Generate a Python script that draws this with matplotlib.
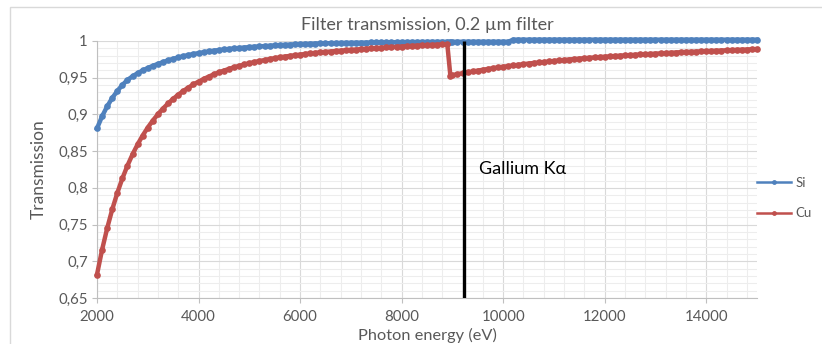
import matplotlib
matplotlib.use("Agg")
import matplotlib.pyplot as plt
import matplotlib.patches as patches
from matplotlib.lines import Line2D
from matplotlib.ticker import MultipleLocator, FuncFormatter
import numpy as np

plt.rcParams["font.family"] = ["Lato", "DejaVu Sans"]

# photon energy grid (eV); 8960 is the first point past the Cu K edge
energy = np.r_[np.arange(2000, 8901, 100), 8960, np.arange(9000, 15001, 100)]

# Si filter transmission
si = [
    0.881, 0.8974, 0.9109, 0.9224, 0.9319, 0.9401, 0.9470, 0.9519, 0.9562, 0.9599,  # 2000-2900
    0.9632, 0.9662, 0.9688, 0.9712, 0.9736, 0.9757, 0.9776, 0.9793, 0.9808, 0.9823,  # 3000-3900
    0.9835, 0.9847, 0.9858, 0.9868, 0.9877, 0.9885, 0.9892, 0.9899, 0.9905, 0.9911,  # 4000-4900
    0.9917, 0.9922, 0.9926, 0.9930, 0.9935, 0.9940, 0.9944, 0.9948, 0.9952, 0.9955,  # 5000-5900
    0.9958, 0.9961, 0.9963, 0.9965, 0.9967, 0.9969, 0.9971, 0.9972, 0.9974, 0.9975,  # 6000-6900
    0.9976, 0.9977, 0.9978, 0.9979, 0.9980, 0.9981, 0.9982, 0.9983, 0.9983, 0.9984,  # 7000-7900
    0.9985, 0.9985, 0.9986, 0.9986, 0.9987, 0.9987, 0.9988, 0.9988, 0.9989, 0.9989,  # 8000-8900
    0.9989,                                                                          # 8960
    0.9989, 0.9989, 0.9990, 0.9990, 0.9990, 0.9990, 0.9990, 0.9990, 0.9990, 0.9990,  # 9000-9900
    0.9990, 0.9990, 1.0018, 1.0018, 1.0018, 1.0018, 1.0018, 1.0018, 1.0018, 1.0018,  # 10000-10900
    1.0018, 1.0018, 1.0018, 1.0018, 1.0018, 1.0018, 1.0018, 1.0018, 1.0018, 1.0018,  # 11000-11900
    1.0018, 1.0018, 1.0018, 1.0018, 1.0018, 1.0018, 1.0018, 1.0018, 1.0018, 1.0018,  # 12000-12900
    1.0018, 1.0018, 1.0018, 1.0018, 1.0018, 1.0018, 1.0018, 1.0018, 1.0018, 1.0018,  # 13000-13900
    1.0018, 1.0018, 1.0018, 1.0018, 1.0018, 1.0018, 1.0018, 1.0018, 1.0018, 1.0018,  # 14000-14900
    1.0018,                                                                          # 15000
]

# Cu filter transmission
cu = [
    0.682, 0.7157, 0.7449, 0.7706, 0.7931, 0.8129, 0.8303, 0.8456, 0.8592, 0.8713,  # 2000-2900
    0.8821, 0.8917, 0.9002, 0.9080, 0.9149, 0.9212, 0.9268, 0.9319, 0.9366, 0.9408,  # 3000-3900
    0.9447, 0.9482, 0.9515, 0.9545, 0.9572, 0.9597, 0.9620, 0.9642, 0.9661, 0.9680,  # 4000-4900
    0.9697, 0.9713, 0.9727, 0.9741, 0.9754, 0.9766, 0.9777, 0.9788, 0.9797, 0.9807,  # 5000-5900
    0.9815, 0.9823, 0.9831, 0.9838, 0.9845, 0.9851, 0.9857, 0.9863, 0.9869, 0.9874,  # 6000-6900
    0.9879, 0.9884, 0.9889, 0.9894, 0.9899, 0.9904, 0.9908, 0.9913, 0.9917, 0.9921,  # 7000-7900
    0.9925, 0.9929, 0.9933, 0.9936, 0.9940, 0.9943, 0.9947, 0.9950, 0.9953, 0.9956,  # 8000-8900
    0.9530,                                                                          # 8960
    0.9534, 0.9548, 0.9561, 0.9573, 0.9586, 0.9597, 0.9608, 0.9619, 0.9630, 0.9640,  # 9000-9900
    0.9649, 0.9659, 0.9668, 0.9676, 0.9685, 0.9693, 0.9700, 0.9708, 0.9715, 0.9722,  # 10000-10900
    0.9729, 0.9736, 0.9742, 0.9748, 0.9754, 0.9760, 0.9765, 0.9771, 0.9776, 0.9781,  # 11000-11900
    0.9786, 0.9791, 0.9796, 0.9800, 0.9804, 0.9809, 0.9813, 0.9817, 0.9821, 0.9824,  # 12000-12900
    0.9829, 0.9833, 0.9836, 0.9840, 0.9843, 0.9847, 0.9850, 0.9853, 0.9856, 0.9859,  # 13000-13900
    0.9862, 0.9865, 0.9868, 0.9870, 0.9873, 0.9876, 0.9879, 0.9881, 0.9884, 0.9887,  # 14000-14900
    0.9890,                                                                          # 15000
]

ga_kalpha = 9220  # eV, marker line

BLUE = "#4F81BD"
RED = "#C0504D"
TXT = "#595959"

fig = plt.figure(figsize=(8.22, 3.44), dpi=100)
ax = fig.add_axes([97 / 822, 1 - 298 / 344, 660 / 822, 257 / 344])

# chart-area border
border = patches.Rectangle((10 / 822, -0.1), 1.0, (344 - 7) / 344 + 0.1,
                           transform=fig.transFigure, fill=False,
                           edgecolor="#D9D9D9", linewidth=1.0, clip_on=False)
fig.patches.append(border)

ax.plot(energy, si, color=BLUE, lw=3.2, marker="o", ms=4.8, mew=0, clip_on=False, zorder=3)
ax.plot(energy, cu, color=RED, lw=3.2, marker="o", ms=4.8, mew=0, clip_on=False, zorder=3)
ax.plot([ga_kalpha, ga_kalpha], [0.65, 1.0], color="black", lw=2.4, zorder=4,
        solid_capstyle="butt")
ax.text(ga_kalpha + 300, 0.825, "Gallium K\u03b1", fontsize=13, color="black",
        va="center", ha="left")

ax.set_xlim(2000, 15000)
ax.set_ylim(0.65, 1.0)
ax.xaxis.set_major_locator(MultipleLocator(2000))
ax.xaxis.set_minor_locator(MultipleLocator(400))
ax.yaxis.set_major_locator(MultipleLocator(0.05))
ax.yaxis.set_minor_locator(MultipleLocator(0.01))
ax.yaxis.set_major_formatter(FuncFormatter(lambda v, p: f"{v:.2f}".rstrip("0").rstrip(".").replace(".", ",")))

ax.grid(True, which="major", color="#D9D9D9", lw=0.8, zorder=0)
ax.grid(True, which="minor", color="#EDEDED", lw=0.8, zorder=0)
ax.set_axisbelow(True)

for s in ["top", "right"]:
    ax.spines[s].set_visible(False)
for s in ["left", "bottom"]:
    ax.spines[s].set_color("#BFBFBF")
    ax.spines[s].set_linewidth(0.8)

ax.tick_params(which="major", length=3.5, color="#BFBFBF", labelcolor=TXT, labelsize=10.8)
ax.tick_params(axis="x", which="major", pad=5)
ax.tick_params(axis="y", which="major", pad=3)
ax.tick_params(which="minor", length=0)

ax.set_title("Filter transmission, 0.2 \u00b5m filter", color=TXT, fontsize=13, pad=8)
ax.set_xlabel("Photon energy (eV)", color=TXT, fontsize=11.8, labelpad=3)
ax.set_ylabel("Transmission", color=TXT, fontsize=12.5, labelpad=8)

handles = [
    Line2D([], [], color=BLUE, lw=1.8, marker="o", ms=3.5, mew=0),
    Line2D([], [], color=RED, lw=1.8, marker="o", ms=3.5, mew=0),
]
fig.legend(handles, ["Si", "Cu"], loc="center left",
           bbox_to_anchor=(757 / 822, 1 - 198 / 344), frameon=False,
           fontsize=9.5, labelcolor=TXT, handlelength=2.6, handletextpad=0.3,
           labelspacing=1.4, borderpad=0, borderaxespad=0, numpoints=1)

fig.savefig("out.png", dpi=100)
